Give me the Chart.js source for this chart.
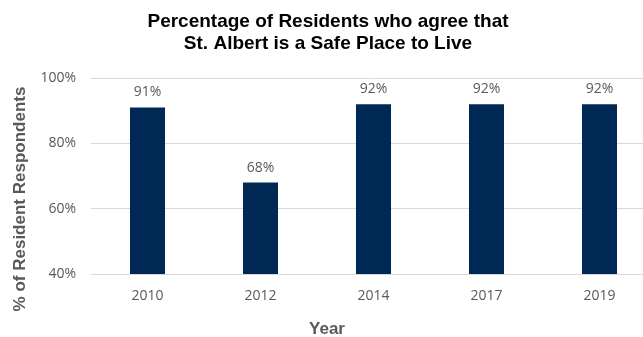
<!DOCTYPE html>
<html>
<head>
<meta charset="utf-8">
<style>
  *{margin:0;padding:0;box-sizing:border-box}
  html,body{width:643px;height:337px;background:#fff;overflow:hidden}
  #wrap{position:relative;width:656px;height:337px}
</style>
</head>
<body>
<div id="wrap"><canvas id="chart" width="656" height="337"></canvas></div>
<script src="https://cdn.jsdelivr.net/npm/chart.js@4/dist/chart.umd.min.js"></script>
<script>
// ─── Data ──────────────────────────────────────────────────────
const years = ["2010", "2012", "2014", "2017", "2019"];
const agreePct = [91, 68, 92, 92, 92];
const yTicks = [40, 60, 80, 100];

const TEXT_GRAY = "#595959";
const BAR_NAVY = "#002855";
const AXIS_TITLE_FONT = "bold 17px 'Liberation Sans', Arial, sans-serif";

// value labels above each bar
const barLabels = {
  id: "barLabels",
  afterDatasetsDraw(chart) {
    const ctx = chart.ctx;
    const meta = chart.getDatasetMeta(0);
    ctx.save();
    ctx.font = "14px 'Open Sans', sans-serif";
    ctx.fillStyle = TEXT_GRAY;
    ctx.textAlign = "center";
    ctx.textBaseline = "bottom";
    meta.data.forEach((bar, i) => {
      ctx.fillText(agreePct[i] + "%", bar.x, bar.y - 8);
    });
    ctx.restore();
  },
};

// axis titles sit where Excel put them, not centred on the plot
const axisTitles = {
  id: "axisTitles",
  afterDraw(chart) {
    const ctx = chart.ctx;
    ctx.save();
    ctx.font = AXIS_TITLE_FONT;
    ctx.fillStyle = TEXT_GRAY;
    ctx.textAlign = "center";
    ctx.textBaseline = "middle";
    ctx.fillText("Year", 327, 329);
    ctx.translate(20, 199);
    ctx.rotate(-Math.PI / 2);
    ctx.fillText("% of Resident Respondents", 0, 0);
    ctx.restore();
  },
};

new Chart(document.getElementById("chart"), {
  type: "bar",
  data: {
    labels: years,
    datasets: [{
      data: agreePct,
      backgroundColor: BAR_NAVY,
      borderWidth: 0,
      categoryPercentage: 1,
      barPercentage: 0.31,
    }],
  },
  options: {
    responsive: false,
    animation: false,
    layout: { padding: { left: 0, right: 0, top: 11, bottom: 0 } },
    plugins: {
      legend: { display: false },
      tooltip: { enabled: false },
      title: {
        display: true,
        text: ["Percentage of Residents who agree that", "St. Albert is a Safe Place to Live"],
        color: "#000",
        font: { size: 19, weight: "bold", family: "'Liberation Sans', Arial, sans-serif", lineHeight: 1.16 },
        padding: { top: 0, bottom: 23 },
      },
    },
    scales: {
      x: {
        afterFit(scale) { scale.height = 63; },
        grid: { display: false, drawTicks: false },
        border: { color: "#d9d9d9" },
        ticks: { color: TEXT_GRAY, font: { size: 14, family: "'Open Sans', sans-serif" }, padding: 14 },
      },
      y: {
        min: 40,
        max: 100,
        afterFit(scale) { scale.width = 91; },
        afterBuildTicks(scale) { scale.ticks = yTicks.map((v) => ({ value: v })); },
        grid: { color: "#d9d9d9", drawTicks: false },
        border: { display: false },
        ticks: {
          color: TEXT_GRAY,
          font: { size: 14, family: "'Open Sans', sans-serif" },
          padding: 15,
          callback: (v) => v + "%",
        },
      },
    },
  },
  plugins: [barLabels, axisTitles],
});
</script>
</body>
</html>
